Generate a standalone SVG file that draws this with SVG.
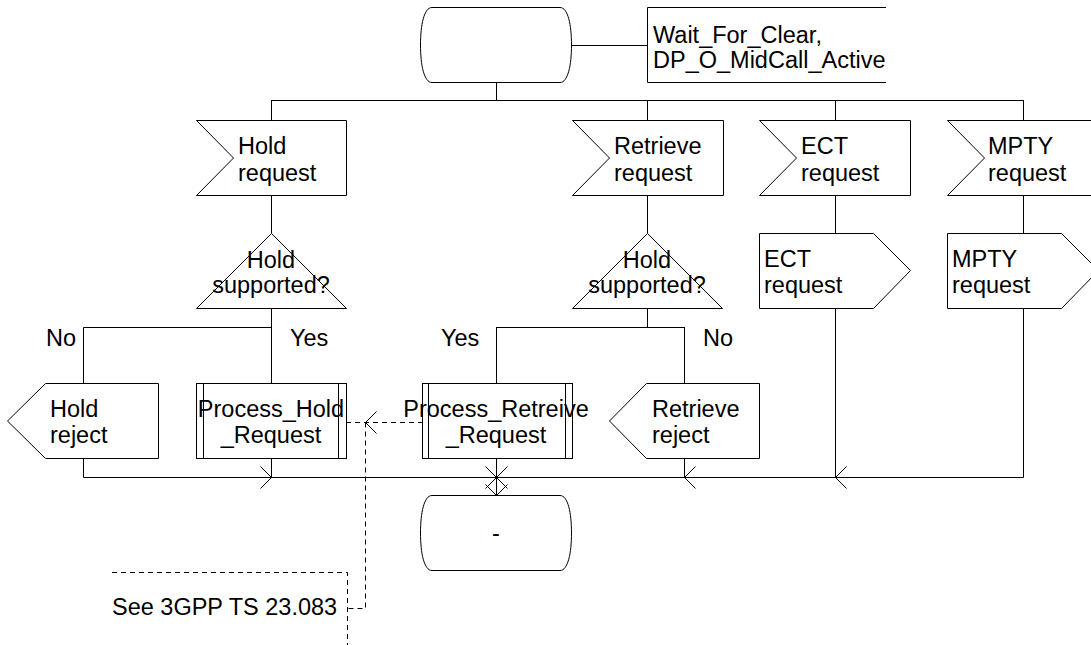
<svg xmlns="http://www.w3.org/2000/svg" width="1091" height="645" viewBox="0 0 1091 645">
<style>
.s{fill:#fff;stroke:#000;stroke-width:1}
.l{fill:none;stroke:#000;stroke-width:1}
.d{fill:none;stroke:#000;stroke-width:1;stroke-dasharray:5,4}
text{font-family:"Liberation Sans",Arial,sans-serif;font-size:23.5px;fill:#000}
.c{text-anchor:middle}
</style>
<rect width="1091" height="645" fill="#fff"/>
<g id="connectors">
<path class="l" d="M496.5,82 V100.5 M571,45.5 H647 M271.5,100.5 H1023.5 M271.5,100 V120 M647.5,100 V120 M835.5,100 V120 M1023.5,100 V120"/>
<path class="l" d="M271.5,195 V233 M647.5,195 V233 M835.5,195 V233 M1023.5,195 V233"/>
<path class="l" d="M271.5,308 V383 M271.5,327.5 H83.5 V383 M647.5,308 V327.5 M496.5,327.5 H684.5 M496.5,327 V383 M684.5,327 V383"/>
<path class="l" d="M83.5,458 V477.5 M271.5,458 V477.5 M496.5,458 V495 M684.5,458 V477.5 M835.5,308 V477.5 M1023.5,308 V477.5 M83.5,477.5 H1023.5"/>
<path class="l" d="M260.5,466.5 L271.5,477.5 L260.5,488.5 M485.5,466.5 L496.5,477.5 L485.5,488.5 M507.5,466.5 L496.5,477.5 L507.5,488.5 M695.5,466.5 L684.5,477.5 L695.5,488.5 M846.5,466.5 L835.5,477.5 L846.5,488.5 M485.5,484.5 L496.5,495.5 L507.5,484.5"/>
<path class="d" d="M346,422.5 H422 M365.5,422.5 V608.5 H347.5"/>
<path class="l" d="M376.5,411.5 L365.5,422.5 L376.5,433.5"/>
</g>
<g id="state_top">
<path class="s" d="M432,7.5 H560 C568,7.5 571.5,25 571.5,45 C571.5,65 568,82.5 560,82.5 H432 C424,82.5 420.5,65 420.5,45 C420.5,25 424,7.5 432,7.5 Z"/>
</g>
<g id="text_ext">
<path class="l" d="M886,7.5 H647.5 V82.5 H886"/>
<text x="653" y="43">Wait_For_Clear,</text>
<text x="653" y="68">DP_O_MidCall_Active</text>
</g>
<g id="in_hold">
<path class="s" d="M196.5,120.5 H346.5 V195.5 H196.5 L233.5,158 Z"/>
<text x="238" y="154">Hold</text>
<text x="238" y="181">request</text>
</g>
<g id="in_retrieve">
<path class="s" d="M572.5,120.5 H723.5 V195.5 H572.5 L609.5,158 Z"/>
<text x="614" y="154">Retrieve</text>
<text x="614" y="181">request</text>
</g>
<g id="in_ect">
<path class="s" d="M759.5,120.5 H910.5 V195.5 H759.5 L796.5,158 Z"/>
<text x="801" y="154">ECT</text>
<text x="801" y="181">request</text>
</g>
<g id="in_mpty">
<path class="s" d="M947.5,120.5 H1098.5 V195.5 H947.5 L984.5,158 Z"/>
<text x="988" y="154">MPTY</text>
<text x="988" y="181">request</text>
</g>
<g id="dec_left">
<path class="s" d="M271.5,233.5 L346.5,308.5 H196.5 Z"/>
<text class="c" x="271" y="268">Hold</text>
<text class="c" x="271" y="293">supported?</text>
</g>
<g id="dec_right">
<path class="s" d="M647.5,233.5 L722.5,308.5 H572.5 Z"/>
<text class="c" x="647" y="268">Hold</text>
<text class="c" x="647" y="293">supported?</text>
</g>
<g id="out_ect">
<path class="s" d="M759.5,233.5 H873.5 L910.5,270.5 L873.5,308.5 H759.5 Z"/>
<text x="764" y="267">ECT</text>
<text x="764" y="293">request</text>
</g>
<g id="out_mpty">
<path class="s" d="M947.5,233.5 H1061.5 L1098.5,270.5 L1061.5,308.5 H947.5 Z"/>
<text x="952" y="267">MPTY</text>
<text x="952" y="293">request</text>
</g>
<g id="labels">
<text x="46" y="346">No</text>
<text x="290" y="346">Yes</text>
<text x="441" y="346">Yes</text>
<text x="703" y="346">No</text>
</g>
<g id="out_hold_reject">
<path class="s" d="M158.5,383.5 V458.5 H45.5 L7.5,421 L45.5,383.5 Z"/>
<text x="50" y="417">Hold</text>
<text x="50" y="443">reject</text>
</g>
<g id="proc_hold">
<rect class="s" x="196.5" y="383.5" width="150" height="75"/>
<path class="l" d="M203.5,383.5 V458.5 M338.5,383.5 V458.5"/>
<text class="c" x="271" y="417">Process_Hold</text>
<text class="c" x="271" y="443">_Request</text>
</g>
<g id="proc_retrieve">
<rect class="s" x="422.5" y="383.5" width="150" height="75"/>
<path class="l" d="M428.5,383.5 V458.5 M565.5,383.5 V458.5"/>
<text class="c" x="496" y="417">Process_Retreive</text>
<text class="c" x="496" y="443">_Request</text>
</g>
<g id="out_retrieve_reject">
<path class="s" d="M759.5,383.5 V458.5 H646.5 L609.5,421 L646.5,383.5 Z"/>
<text x="652" y="417">Retrieve</text>
<text x="652" y="443">reject</text>
</g>
<g id="state_end">
<path class="s" d="M432,495.5 H560 C568,495.5 571.5,513 571.5,533 C571.5,553 568,570.5 560,570.5 H432 C424,570.5 420.5,553 420.5,533 C420.5,513 424,495.5 432,495.5 Z"/>
<text class="c" x="496" y="541">-</text>
</g>
<g id="comment">
<path class="d" d="M112,572.5 H347.5 V645"/>
<text x="112" y="615">See 3GPP TS 23.083</text>
</g>
</svg>
